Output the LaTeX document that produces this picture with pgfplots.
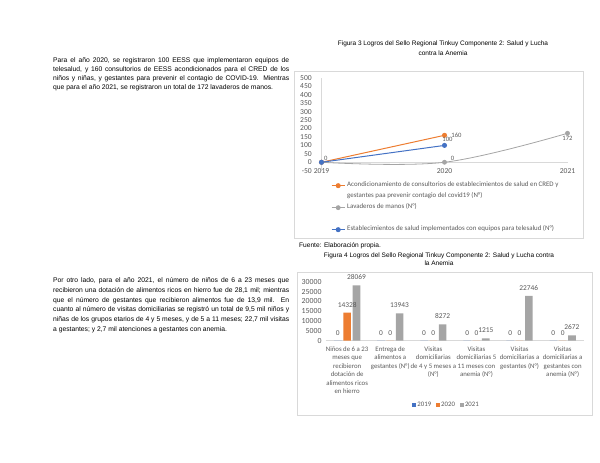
\documentclass[border=0pt]{standalone}
\usepackage{fontspec}
\setmainfont{Liberation Sans}
\newfontfamily\calibri{Carlito}
\usepackage{pgfplots}
\pgfplotsset{compat=1.18}
\definecolor{xlorange}{HTML}{ED7D31}
\definecolor{xlblue}{HTML}{4472C4}
\definecolor{xlgray}{HTML}{A5A5A5}
\definecolor{xltext}{HTML}{595959}
\definecolor{xlframe}{HTML}{D9D9D9}

\begin{document}
\begin{tikzpicture}
\path[use as bounding box] (0pt,0pt) rectangle (600pt,463pt);

% text of the page
\node[anchor=north west, inner sep=0, text width=236pt, align=justify,
  font=\fontsize{6.75}{9.3}\selectfont, text=black] at (53pt,406pt)
  {Para el año 2020, se registraron 100 EESS que implementaron equipos de\linebreak
   telesalud, y 160 consultorios de EESS acondicionados para el CRED de los\linebreak
   niños y niñas, y gestantes para prevenir el contagio de COVID-19. Mientras\linebreak
   que para el año 2021, se registraron un total de 172 lavaderos de manos.};
\node[anchor=north west, inner sep=0, text width=236pt, align=justify,
  font=\fontsize{6.75}{9.7}\selectfont, text=black] at (53pt,185.5pt)
  {Por otro lado, para el año 2021, el número de niños de 6 a 23 meses que\linebreak
   recibieron una dotación de alimentos ricos en hierro fue de 28,1 mil; mientras\linebreak
   que el número de gestantes que recibieron alimentos fue de 13,9 mil. En\linebreak
   cuanto al número de visitas domiciliarias se registró un total de 9,5 mil niños y\linebreak
   niñas de los grupos etarios de 4 y 5 meses, y de 5 a 11 meses; 22,7 mil visitas\linebreak
   a gestantes; y 2,7 mil atenciones a gestantes con anemia.};

\node[align=center, inner sep=0, font=\fontsize{6.5}{10}\selectfont, text=black] at (443pt,415pt)
  {Figura 3 Logros del Sello Regional Tinkuy Componente 2: Salud y Lucha\\contra la Anemia};
\node[anchor=west, inner sep=0, font=\fontsize{6.6}{8}\selectfont, text=black] at (299pt,217.5pt)
  {Fuente: Elaboración propia.};
\node[align=center, inner sep=0, font=\fontsize{6.5}{8}\selectfont, text=black] at (439pt,203.5pt)
  {Figura 4 Logros del Sello Regional Tinkuy Componente 2: Salud y Lucha contra\\la Anemia};

% chart frames
\draw[xlframe, line width=0.6pt] (294pt,392pt) rectangle (583pt,225pt);
\draw[xlframe, line width=0.6pt] (297pt,191pt) rectangle (592pt,48pt);

% Figura 3
\begin{axis}[
  at={(321.5pt,292.3pt)}, anchor=south west,
  scale only axis, width=246pt, height=92.7pt,
  xmin=2019, xmax=2021, ymin=-50, ymax=500,
  xtick={2019,2020,2021}, ytick={-50,0,...,500},
  axis x line*=bottom, axis y line*=left,
  x axis line style={draw=none}, y axis line style={draw=xlframe},
  major tick length=0pt, clip=false,
  extra y ticks={0}, extra y tick labels={},
  extra y tick style={grid=major, major grid style={xlframe, line width=0.5pt}},
  /pgf/number format/assume math mode=true,
  /pgf/number format/1000 sep={},
  tick label style={font=\calibri\fontsize{7.6}{8}\selectfont, text=xltext},
  xticklabel style={anchor=center},
  yticklabel style={anchor=east, inner sep=0pt, xshift=-9.5pt},
  legend cell align=left,
  legend style={at={(0.0386,-0.10)}, anchor=north west, draw=none, fill=none,
    font=\calibri\fontsize{6.9}{7.5}\selectfont, text=xltext, row sep=0pt,
    inner sep=0pt, nodes={inner ysep=0pt, inner xsep=2pt, text height=6.5pt, text depth=4.5pt}},
  legend image code/.code={\draw[mark repeat=2,mark phase=2] plot coordinates {(0pt,0pt) (6.5pt,0pt) (13pt,0pt)};},
  every node near coord/.append style={font=\calibri\fontsize{6.6}{7}\selectfont, text=xltext, anchor=center},
]
\addplot[xlorange, line width=1pt, mark=*, mark size=2pt] coordinates {(2019,0) (2020,160)};
\addlegendentry{Acondicionamiento de consultorios de establecimientos de salud en CRED y}
\addlegendimage{empty legend}
\addlegendentry{gestantes paa prevenir contagio del covid19 (N°)}
\addplot[xlgray, line width=0.8pt, smooth, tension=0.6, mark=*, mark size=2pt] coordinates {(2019,0) (2020,0) (2021,172)};
\addlegendentry{Lavaderos de manos (N°)}
\addlegendimage{empty legend}
\addlegendentry{}
\addplot[xlblue, line width=1pt, mark=*, mark size=2pt] coordinates {(2019,0) (2020,100)};
\addlegendentry{Establecimientos de salud implementados con equipos para telesalud (N°)}
% data labels
\addplot[draw=none, forget plot, nodes near coords, point meta=explicit symbolic,
  every node near coord/.append style={xshift=4.2pt, yshift=4.3pt}] coordinates {(2019,0) [0]};
\addplot[draw=none, forget plot, nodes near coords, point meta=explicit symbolic,
  every node near coord/.append style={xshift=12pt, yshift=0pt}] coordinates {(2020,160) [160]};
\addplot[draw=none, forget plot, nodes near coords, point meta=explicit symbolic,
  every node near coord/.append style={xshift=3pt, yshift=5.7pt}] coordinates {(2020,100) [100]};
\addplot[draw=none, forget plot, nodes near coords, point meta=explicit symbolic,
  every node near coord/.append style={xshift=8pt, yshift=4.3pt}] coordinates {(2020,0) [0]};
\addplot[draw=none, forget plot, nodes near coords, point meta=explicit symbolic,
  every node near coord/.append style={xshift=0pt, yshift=-5pt}] coordinates {(2021,172) [172]};
\end{axis}

% Figura 4
\begin{axis}[
  at={(325.6pt,122.3pt)}, anchor=south west,
  scale only axis, width=258.6pt, height=59pt,
  xmin=-0.5, xmax=5.5, ymin=0, ymax=30000,
  ybar=1.7pt, bar width=7.6pt,
  xtick={0,...,5}, ytick={0,5000,...,30000},
  xticklabels={{Niños de 6 a 23\\meses que\\recibieron\\dotación de\\alimentos ricos\\en hierro},
    {Entrega de\\alimentos a\\gestantes (N°)},
    {Visitas\\domiciliarias\\de 4 y 5 meses a\\(N°)},
    {Visitas\\domiciliarias 5\\11 meses con\\anemia (N°)},
    {Visitas\\domiciliarias a\\gestantes (N°)},
    {Visitas\\domiciliarias a\\gestantes con\\anemia (N°)}},
  axis x line*=bottom, axis y line*=left,
  x axis line style={draw=xlframe}, y axis line style={draw=none},
  major tick length=0pt, clip=false,
  scaled y ticks=false,
  /pgf/number format/assume math mode=true,
  /pgf/number format/1000 sep={},
  tick label style={font=\calibri\fontsize{7.8}{8}\selectfont, text=xltext},
  xticklabel style={anchor=north, align=center, inner sep=0pt, yshift=-5.5pt,
    font=\calibri\fontsize{6.8}{8.5}\selectfont},
  yticklabel style={anchor=east, inner sep=0pt, xshift=-3.9pt},
  nodes near coords, nodes near coords align={center},
  every node near coord/.append style={font=\calibri\fontsize{7.4}{8}\selectfont, text=xltext, yshift=8pt},
  legend columns=3,
  legend style={at={(0.466,-1.09)}, anchor=center, draw=none, fill=none,
    font=\calibri\fontsize{6.8}{7}\selectfont, text=xltext,
    /tikz/every even column/.append style={column sep=4pt},
    nodes={inner xsep=1pt, inner ysep=0pt}},
  legend image code/.code={\fill (0pt,-2pt) rectangle (4pt,2pt);},
]
\addplot[fill=xlblue, draw=none] coordinates {(0,0) (1,0) (2,0) (3,0) (4,0) (5,0)};
\addlegendentry{2019}
\addplot[fill=xlorange, draw=none,
  coordinate style/.condition={x==0}{every node near coord/.append style={xshift=-5.5pt}}]
  coordinates {(0,14328) (1,0) (2,0) (3,0) (4,0) (5,0)};
\addlegendentry{2020}
\addplot[fill=xlgray, draw=none] coordinates {(0,28069) (1,13943) (2,8272) (3,1215) (4,22746) (5,2672)};
\addlegendentry{2021}
\end{axis}
\end{tikzpicture}
\end{document}
